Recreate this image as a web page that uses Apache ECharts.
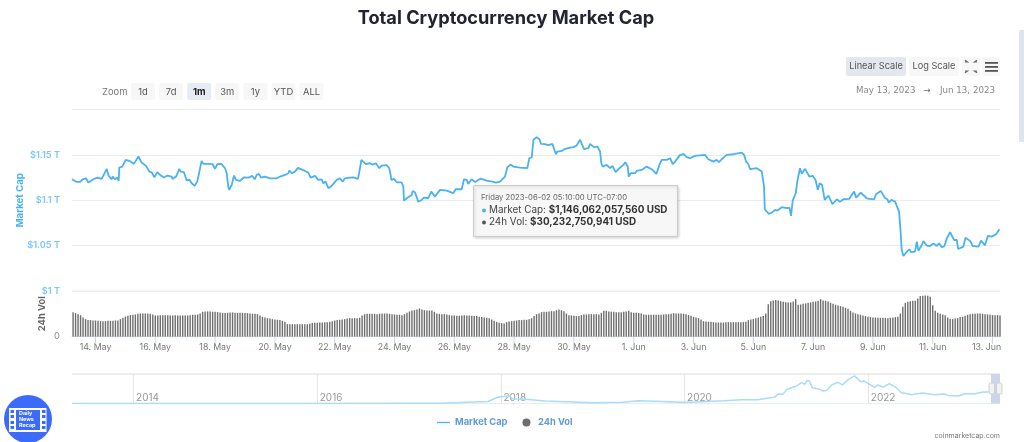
<!DOCTYPE html>
<html lang="en" style="height: 100%">
<head>
    <meta charset="utf-8"/>
    <meta name="viewport" content="width=device-width, initial-scale=1.0"/>
</head>
<body style="height: 100%; margin: 0; overflow: hidden; background: #fff">
<div id="container" style="height: 100%"></div>

<script type="text/javascript" src="https://cdn.jsdelivr.net/npm/echarts@6/dist/echarts.min.js"></script>

<script type="text/javascript">
    // hours since 13 May 2023 00:00, market cap in trillions
    var capHours = [
        5.1, 6.7, 8.9, 11.6, 13.7, 16.4, 18.2, 19.6, 22.3, 25.5, 29, 30.3, 33, 34.6, 37, 37.8, 39.6, 41.5, 42.6, 43.1,
        45.5, 48.2, 51.7, 54.9, 58.4, 61, 64.5, 67.2, 68.3, 69.3, 71.2, 73.6, 75.8, 79, 81.7, 85.1, 85.9, 88.6, 91.3, 92.4,
        95, 97.2, 99.3, 101.2, 103.6, 105.7, 109.2, 110.6, 114.6, 118, 119.9, 121.8, 125, 128, 129.3, 130.6, 131.4, 133.3, 135.2, 136.8,
        140, 143.2, 146.7, 148, 149.9, 151.8, 153.4, 155.2, 156.8, 160, 164, 169.4, 172.1, 176.1, 178.8, 179.6, 181.5, 184.1, 186.5,
        192.1, 194.8, 196.7, 200.2, 202.8, 205.5, 206.9, 208.7, 210.9, 213.5, 217.6, 220.2, 222.4, 224.2, 228.3, 230.9, 232.5, 234.7, 235.8, 237.4,
        239, 241.1, 244.3, 246.2, 249.1, 251.8, 253.7, 257.7, 259.8, 260.9, 261.4, 263.6, 265.7, 269.7, 271.1, 271.6, 273.8, 275.4, 277.8, 278.6,
        280.4, 281.8, 283.1, 285.8, 287.7, 291.1, 293.5, 296.5, 300.5, 305.9, 308, 311.2, 313.1, 317.9, 319.8, 321.9, 323.2, 325.9, 328.6, 333.2,
        337.9, 342.5, 345.5, 348.7, 352.7, 354.6, 357.2, 359.4, 362, 364.8, 370.6, 372.2, 374.1, 375.5, 378.1, 380.3, 381.6, 384.8, 387.5, 390.7,
        391.5, 393.6, 394.7, 398.2, 400.3, 404.9, 405.4, 407.6, 410.2, 412.9, 416.1, 419.6, 421, 424.2, 426.8, 429, 430, 431.1, 434.3, 437,
        438.9, 441.5, 444.5, 447.7, 449.3, 451.2, 452, 453.6, 457.1, 458.4, 462.4, 466.4, 470.4, 474.2, 476.6, 478.5, 482.5, 485.2, 487.3, 489.2,
        493.2, 496.4, 498.5, 501.2, 505.2, 513.2, 515.9, 519.9, 522.6, 524.5, 526.6, 530.6, 536, 542.7, 544.6, 546.2, 548, 549.4, 554.8, 558.8,
        560.1, 560.6, 561.2, 562.8, 564.4, 566.8, 569.5, 571.3, 574.8, 578.8, 581, 582.3, 583.6, 586, 587.4, 589.5, 590.9, 593.5, 597, 599.7,
        602.1, 603.7, 605.3, 607.2, 609.3, 612.3, 613.6, 615.5, 619, 621.6, 624.3, 628.9, 630.2, 632.9, 634.5, 638.2, 643.1, 645.2, 649, 650.5,
        654.3, 657.8, 659.6, 660.7, 662.8, 665.8, 669, 670.3, 671.1, 672.5, 675.2, 677.3, 678.6, 681.8, 683.2, 684.5, 687.2, 688.5, 691.2, 693.9,
        696.6, 699.2, 701.1, 703.3, 705.4, 707.3, 709.9, 713.2, 715.3, 716.4, 720.6, 722.3, 726, 728.1, 732.7, 734.8, 738, 740.2, 743.4, 746.9, 749.5
    ];
    var capValues = [
        1.1231, 1.1235, 1.1202, 1.1202, 1.1231, 1.1242, 1.1195, 1.1187, 1.1231, 1.125, 1.1235, 1.1231, 1.1345, 1.1268, 1.1231, 1.1261, 1.1231, 1.125, 1.1213, 1.136,
        1.1371, 1.1445, 1.143, 1.1401, 1.1482, 1.1415, 1.1379, 1.1316, 1.1316, 1.1305, 1.1253, 1.1309, 1.1279, 1.125, 1.1272, 1.1261, 1.1235, 1.1261, 1.1345, 1.1316,
        1.1309, 1.1217, 1.1228, 1.1187, 1.1158, 1.1206, 1.1434, 1.1401, 1.1401, 1.1397, 1.1345, 1.1397, 1.1401, 1.1353, 1.1298, 1.115, 1.1114, 1.1169, 1.1272, 1.1224,
        1.1213, 1.1253, 1.125, 1.1231, 1.1268, 1.1231, 1.1279, 1.129, 1.125, 1.1261, 1.1242, 1.1242, 1.1261, 1.1279, 1.1298, 1.1327, 1.1298, 1.1316, 1.1356,
        1.1323, 1.1305, 1.125, 1.1268, 1.1224, 1.1231, 1.1187, 1.1206, 1.1132, 1.1158, 1.1224, 1.1242, 1.1206, 1.1242, 1.125, 1.1253, 1.1261, 1.1235, 1.1316, 1.1445,
        1.1437, 1.1397, 1.1408, 1.1393, 1.1408, 1.1353, 1.1382, 1.1386, 1.1353, 1.1279, 1.1224, 1.1235, 1.1198, 1.1198, 1.115, 1.0996, 1.1022, 1.1007, 1.1058, 1.1103,
        1.1088, 1.1095, 1.0985, 1.1003, 1.1029, 1.1022, 1.1095, 1.104, 1.1114, 1.1106, 1.1095, 1.1077, 1.1121, 1.1121, 1.1231, 1.1224, 1.118, 1.1231, 1.1202, 1.1239,
        1.1217, 1.1206, 1.1195, 1.1206, 1.1261, 1.1364, 1.1393, 1.1371, 1.1364, 1.136, 1.1353, 1.1463, 1.1471, 1.1666, 1.1695, 1.1673, 1.1621, 1.1618, 1.1607, 1.1621,
        1.1603, 1.1507, 1.1537, 1.1544, 1.1563, 1.1581, 1.1599, 1.1585, 1.1603, 1.1666, 1.1563, 1.1574, 1.1621, 1.1585, 1.1592, 1.1537, 1.1408, 1.1371, 1.139, 1.1353,
        1.1379, 1.1309, 1.1353, 1.139, 1.1419, 1.1371, 1.1261, 1.1298, 1.1298, 1.1323, 1.1334, 1.1371, 1.1342, 1.129, 1.139, 1.1445, 1.1445, 1.1463, 1.1397, 1.1426,
        1.15, 1.1507, 1.1474, 1.1463, 1.1489, 1.15, 1.1452, 1.1426, 1.1445, 1.1419, 1.1452, 1.15, 1.1507, 1.1526, 1.15, 1.1426, 1.1397, 1.1342, 1.1353, 1.1316,
        1.1328, 1.1151, 1.0901, 1.0893, 1.0849, 1.0864, 1.0893, 1.0886, 1.0923, 1.0912, 1.0919, 1.0827, 1.0996, 1.1077, 1.1217, 1.1353, 1.1291, 1.1346, 1.1261, 1.1269,
        1.1217, 1.1114, 1.1188, 1.1169, 1.1004, 1.1052, 1.1033, 1.0956, 1.1011, 1.0982, 1.1011, 1.1015, 1.104, 1.1096, 1.1029, 1.1085, 1.1022, 1.1015, 1.1011, 1.1066,
        1.1103, 1.1022, 1.1011, 1.0974, 1.1004, 1.0985, 1.0875, 1.0636, 1.0452, 1.0385, 1.0433, 1.0459, 1.0429, 1.0433, 1.0544, 1.0444, 1.0507, 1.0551, 1.05, 1.0496,
        1.0525, 1.0496, 1.0525, 1.0481, 1.0496, 1.058, 1.0647, 1.0562, 1.0562, 1.0463, 1.0489, 1.0588, 1.0551, 1.0496, 1.0488, 1.0555, 1.0503, 1.0606, 1.0599, 1.0625, 1.068
    ];
    // 24h volume in billions, one bar every two hours from 13 May 06:00
    var volValues = [
        32.4, 31.1, 29.7, 28.4, 25.3, 23.1, 21.8, 21.8, 21.3, 21.3, 20.9, 20.4, 20.4, 20.4, 20.9, 20.9, 20.9, 21.3, 21.3, 23.1, 24.9, 26.6, 27.5, 28.4,
        28.9, 29.3, 30.2, 30.6, 30.6, 30.6, 30.6, 30.2, 29.3, 28, 28, 28.4, 28.4, 28.4, 28.4, 28, 28, 28.4, 28, 28, 28, 28, 28, 28.4,
        28.9, 28.9, 29.3, 30.6, 32.9, 33.3, 33.3, 33.3, 32.9, 32.9, 32.4, 32, 31.5, 31.1, 31.5, 32, 32, 31.5, 31.5, 31.5, 31.5, 31.1, 31.1, 30.6,
        30.2, 30.2, 29.7, 28, 26.2, 25.3, 24.4, 24, 23.1, 22.6, 22.2, 21.8, 20.9, 19.5, 16.4, 16.4, 16.4, 16.4, 16.4, 16.4, 16.4, 16.3, 16.4, 16.9,
        17.8, 18.2, 18.2, 18.6, 18.6, 19.1, 19.1, 19.5, 20.4, 21.3, 21.8, 22.2, 22.6, 23.1, 24, 24.4, 24.4, 24.4, 24.4, 24.9, 28, 29.7, 30.2, 30.2,
        30.2, 30.2, 29.7, 30.2, 30.6, 30.6, 30.6, 30.2, 29.7, 29.3, 28.9, 28.9, 28.4, 29.7, 31.5, 33.3, 34.6, 35, 36, 37.3, 36, 35, 34.6, 34.6,
        34.6, 32.9, 30.6, 30.2, 29.7, 29.7, 29.3, 28.4, 28, 28, 27.5, 27.5, 28, 28.4, 28, 28, 27.5, 27.1, 27.1, 26.2, 25.8, 25.3, 24.9, 24.4,
        22.6, 20.9, 19.5, 18.2, 17.8, 17.3, 19.1, 20, 20.4, 20.9, 21.3, 21.8, 21.8, 22.2, 22.2, 23.1, 24.4, 27.1, 29.7, 30.6, 32.4, 32.9, 32.9, 33.3,
        33.7, 33.7, 35, 36, 35, 33.7, 30.6, 28.4, 28, 27.5, 27.1, 27.1, 28.4, 29.3, 29.3, 29.7, 29.7, 29.7, 29.7, 29.3, 31.5, 34.2, 34.2, 33.3,
        32.9, 32.9, 32.4, 32.4, 32.4, 32.9, 33.3, 34.2, 32.4, 31.5, 31.5, 31.1, 30.6, 29.3, 28.9, 28.9, 28.9, 28.9, 28.9, 28.9, 28.9, 29.3, 29.7, 29.7,
        30.2, 31.1, 30.6, 30.6, 30.6, 30.2, 29.7, 28.4, 27.5, 26.2, 25.3, 24.4, 22.6, 20.4, 20, 19.5, 19.5, 19.1, 18.6, 18.6, 18.6, 18.6, 19.1, 19.1,
        19.1, 19.1, 19.1, 19.1, 19.1, 19.1, 19.5, 21.8, 22.6, 23.5, 24.4, 25.3, 26.2, 27.1, 30.6, 43, 47, 48, 48.4, 48, 47, 46.2, 45.7, 45.3,
        45.3, 46.6, 49.7, 42.2, 42.6, 43.5, 44, 44.8, 45.3, 46.2, 46.6, 47.5, 49.7, 48, 47.5, 46.6, 44.8, 43.5, 42.2, 41.3, 40.4, 39.5, 38.2, 36.9,
        34.2, 32, 30.6, 29.7, 28.9, 28, 27.1, 26.2, 25.8, 25.3, 25.3, 24.9, 24.9, 24.9, 24.9, 24.4, 24.9, 25.3, 25.8, 26.2, 30.6, 39.5, 44.8, 46.2,
        47, 47.5, 47.5, 50.6, 53.7, 54.2, 54.6, 54.2, 52.8, 41.7, 34.2, 31.5, 30.2, 29.3, 28.4, 25.3, 23.5, 23.1, 24, 24.4, 25.8, 26.2, 27.5, 28.9,
        29.7, 30.2, 30.2, 30.6, 30.6, 30.2, 29.7, 29.3, 28.9, 28.4, 28.4, 28.4, 28
    ];
    var tickHours = [24, 72, 120, 168, 216, 264, 312, 360, 408, 456, 504, 552, 600, 648, 696, 744];
    var tickLabels = ["14. May", "16. May", "18. May", "20. May", "22. May", "24. May", "26. May", "28. May",
        "30. May", "1. Jun", "3. Jun", "5. Jun", "7. Jun", "9. Jun", "11. Jun", "13. Jun"];
    // overview line: decimal year and market cap in trillions
    var navYears = [
        2013.33, 2014, 2015, 2016, 2017, 2017.34, 2017.63, 2017.86, 2017.95, 2017.99, 2018.1, 2018.12, 2018.3, 2018.48, 2018.85, 2019.02, 2019.32, 2019.5, 2019.75, 2019.96,
        2020.07, 2020.25, 2020.43, 2020.62, 2020.8, 2020.93, 2020.98, 2021.02, 2021.07, 2021.11, 2021.16, 2021.22, 2021.27, 2021.31, 2021.33, 2021.36, 2021.39, 2021.45, 2021.51, 2021.55,
        2021.6, 2021.67, 2021.72, 2021.78, 2021.85, 2021.92, 2021.95, 2022, 2022.07, 2022.1, 2022.16, 2022.23, 2022.3, 2022.36, 2022.43, 2022.47, 2022.59, 2022.72, 2022.83, 2022.87,
        2022.98, 2023.05, 2023.16, 2023.25, 2023.32, 2023.43
    ];
    var navValues = [
        0.002, 0.01, 0.005, 0.007, 0.018, 0.035, 0.14, 0.21, 0.6, 0.71, 0.78, 0.5, 0.42, 0.25, 0.14, 0.07, 0.14, 0.28, 0.21, 0.14,
        0.14, 0.21, 0.28, 0.39, 0.39, 0.6, 0.67, 0.99, 0.96, 1.45, 1.66, 1.84, 2.19, 2.02, 2.41, 2.37, 1.66, 1.56, 1.31, 1.38,
        1.95, 2.23, 1.95, 2.51, 2.9, 2.27, 2.37, 2.09, 1.7, 1.95, 1.73, 2.09, 1.7, 1.13, 1.03, 0.92, 1.1, 0.92, 0.99, 0.85,
        0.78, 1.03, 1.03, 1.2, 1.2, 1.1
    ];
    var navTicks = [2014, 2016, 2018, 2020, 2022];
    var zoomButtons = ["1d", "7d", "1m", "3m", "1y", "YTD", "ALL"];

    var FONT = "Inter, Roboto, sans-serif";

    function box(x, y, w, h, fill) {
        return {type: "rect", shape: {x: x, y: y, width: w, height: h, r: 2}, style: {fill: fill}, silent: true};
    }
    function label(x, y, text, size, color, weight, align, family) {
        return {
            type: "text", x: x, y: y, silent: true,
            style: {
                text: text, fill: color, font: (weight || 400) + " " + size + "px " + (family || FONT),
                align: align || "left", verticalAlign: "middle",
            },
        };
    }
    function bar(x, y, w, h, color) {
        return {type: "rect", shape: {x: x, y: y, width: w, height: h}, style: {fill: color}, silent: true};
    }

    var gfx = [];

    // range buttons
    gfx.push(label(102, 92, "Zoom", 9.4, "#777"));
    zoomButtons.forEach(function (t, i) {
        var x = i < 5 ? 131 + i * 28.1 : (i == 5 ? 271.5 : 299.5);
        var on = t == "1m";
        gfx.push(box(x, 83, 24, 17, on ? "#e6ebf5" : "#f7f7f7"));
        gfx.push(label(x + 12, 92, t, 9.4, on ? "#222" : "#555", on ? 700 : 400, "center"));
    });

    // scale buttons, icons, date range
    gfx.push(box(846, 57, 60, 19, "#e4e7ee"));
    gfx.push(label(876, 66.5, "Linear Scale", 9.2, "#555", 400, "center"));
    gfx.push(box(909, 57, 50, 19, "#f7f7f7"));
    gfx.push(label(934, 66.5, "Log Scale", 9.2, "#555", 400, "center"));
    gfx.push(box(962, 57, 18, 19, "#f7f7f7"));
    gfx.push(box(982, 57, 18, 19, "#f7f7f7"));
    [[965, 62, 5, -3], [977, 62, -5, -3], [965, 71, 5, 3], [977, 71, -5, 3]].forEach(function (c) {
        gfx.push({
            type: "polyline", silent: true,
            shape: {points: [[c[0], c[1]], [c[0] + c[2] * 0.5, c[1]], [c[0], c[1] + c[3] * 0.6]]},
            style: {stroke: "#666", lineWidth: 1.2, fill: null},
        });
    });
    [62, 66, 70].forEach(function (y) {
        gfx.push(bar(985, y, 13, 1.8, "#555"));
    });
    gfx.push(label(856, 91, "May 13, 2023", 8.7, "#888", 400, "left", "DejaVu Sans"));
    gfx.push(label(927, 91, "\u2192", 8.7, "#666", 400, "center", "DejaVu Sans"));
    gfx.push(label(995, 91, "Jun 13, 2023", 8.7, "#888", 400, "right", "DejaVu Sans"));

    // gridline under the price pane reads heavier in the picture
    gfx.push(bar(72, 290.2, 928, 1.8, "#eeeeee"));

    // fixed hover card
    gfx.push({
        type: "rect", silent: true, z: 50,
        shape: {x: 473.5, y: 185.5, width: 204, height: 51},
        style: {fill: "#f7f7f7", stroke: "#cccccc", lineWidth: 1, shadowBlur: 3, shadowColor: "rgba(0,0,0,0.18)", shadowOffsetX: 1, shadowOffsetY: 1},
    });
    var cardText = [
        label(481, 197.5, "Friday 2023-06-02 05:10:00 UTC-07:00", 7.7, "#666"),
        {
            type: "text", x: 489, y: 210, silent: true,
            style: {
                text: "{a|Market Cap: }{b|$1,146,062,057,560 USD}", verticalAlign: "middle",
                rich: {a: {fill: "#444", font: "400 9.9px " + FONT}, b: {fill: "#333", font: "700 9.9px " + FONT}},
            },
        },
        {
            type: "text", x: 489, y: 222, silent: true,
            style: {
                text: "{a|24h Vol: }{b|$30,232,750,941 USD}", verticalAlign: "middle",
                rich: {a: {fill: "#444", font: "400 9.9px " + FONT}, b: {fill: "#333", font: "700 9.9px " + FONT}},
            },
        },
        {type: "circle", silent: true, shape: {cx: 484, cy: 210.5, r: 2}, style: {fill: "#4ab2ef"}},
        {type: "circle", silent: true, shape: {cx: 484, cy: 222.5, r: 2}, style: {fill: "#555"}},
    ];
    cardText.forEach(function (e) {
        e.z = 51;
        gfx.push(e);
    });

    // overview frame and handles
    gfx.push(bar(72, 373.5, 928, 1, "#dcdcdc"));
    [989, 996.5].forEach(function (x) {
        gfx.push({
            type: "rect", silent: true, z: 20,
            shape: {x: x, y: 383, width: 5.5, height: 11, r: 1.5},
            style: {fill: "#f2f2f2", stroke: "#d0d0d0", lineWidth: 1},
        });
    });

    // logo
    gfx.push({type: "circle", silent: true, shape: {cx: 28, cy: 419, r: 24}, style: {fill: "#3a6bfa"}});
    gfx.push(bar(9, 408, 37.5, 24, "#ffffff"));
    gfx.push(bar(16, 410, 24, 20, "#3a6bfa"));
    [410, 415, 421, 426].forEach(function (y) {
        gfx.push(bar(10.5, y, 3.5, 3, "#3a6bfa"));
        gfx.push(bar(42, y, 3.5, 3, "#3a6bfa"));
    });
    gfx.push(label(19, 413.5, "Daily", 5.4, "#fff", 700));
    gfx.push(label(19, 419.5, "News", 5.4, "#fff", 700));
    gfx.push(label(19, 425.5, "Recap", 5.4, "#fff", 700));

    // page scrollbar and credit
    gfx.push({type: "rect", silent: true, shape: {x: 1019, y: 30, width: 6, height: 112, r: 2}, style: {fill: "#dfe5ef"}});
    gfx.push(label(1000, 436, "coinmarketcap.com", 7, "#777", 400, "right"));

    var dom = document.getElementById("container");
    var myChart = echarts.init(dom, null, {renderer: "canvas"});

    var xMin = 5.14;
    var xMax = 750;

    var option = {
        animation: false,
        title: {
            text: "Total Cryptocurrency Market Cap",
            left: 501, top: 5, textAlign: "center",
            textStyle: {color: "#222531", fontFamily: FONT, fontWeight: 700, fontSize: 18.2},
        },
        legend: {
            left: 432, top: 413, itemWidth: 13, itemHeight: 8, itemGap: 15,
            textStyle: {color: "#5f9bd9", fontFamily: FONT, fontWeight: 700, fontSize: 9.3},
            data: [
                {name: "Market Cap", icon: "path://M0 0L0 0M0 3.3H14V4.7H0ZM14 8L14 8", itemStyle: {color: "#4ab2ef"}},
                {name: "24h Vol", icon: "circle"},
            ],
        },
        grid: [
            {left: 72, right: 24, top: 109.5, height: 181.5},
            {left: 72, right: 24, top: 291, height: 45.5},
            {left: 72, right: 24, top: 374, height: 29.5},
            // thin strip under the volume pane, holds the date ticks
            {left: 72, right: 24, top: 337, height: 7},
        ],
        xAxis: [
            {type: "value", gridIndex: 0, min: xMin, max: xMax, show: false},
            {
                type: "value", gridIndex: 1, min: xMin, max: xMax,
                axisLine: {lineStyle: {color: "#ccd6eb"}},
                axisTick: {show: false},
                splitLine: {show: false},
                axisLabel: {
                    customValues: tickHours, color: "#777", fontFamily: FONT, fontSize: 8.8, margin: 6,
                    hideOverlap: false,
                    rich: {last: {color: "#777", fontFamily: FONT, fontSize: 8.8, padding: [0, 12, 0, 0]}},
                    formatter: function (v) {
                        var t = tickLabels[tickHours.indexOf(v)];
                        return v == 744 ? "{last|" + t + "}" : t;
                    },
                },
            },
            {
                type: "value", gridIndex: 2, min: 2013.33, max: 2023.434,
                axisLine: {lineStyle: {color: "#e6eef5"}},
                axisTick: {show: false, customValues: navTicks},
                splitLine: {show: true, lineStyle: {color: "#e6e6e6"}},
                axisLabel: {
                    customValues: navTicks, inside: true, color: "#999", fontFamily: FONT, fontSize: 10,
                    align: "left", padding: [0, 0, 0, 2.5], margin: 1,
                    formatter: function (v) {
                        return String(v);
                    },
                },
            },
            {type: "value", gridIndex: 3, min: xMin, max: xMax, show: false},
        ],
        yAxis: [
            {
                type: "value", gridIndex: 0, min: 1, max: 1.2, interval: 0.05,
                name: "Market Cap", nameLocation: "middle", nameGap: 47, nameMoveOverlap: false,
                nameTextStyle: {color: "#4ab2ef", fontFamily: FONT, fontWeight: 700, fontSize: 9.6},
                axisLine: {show: false}, axisTick: {show: false},
                splitLine: {lineStyle: {color: "#e9ecef"}},
                axisLabel: {
                    color: "#7cc8f5", fontFamily: FONT, fontWeight: 600, fontSize: 9.2, margin: 12,
                    formatter: function (v) {
                        return v > 1.19 ? "" : "$" + (+v.toFixed(2)) + " T";
                    },
                },
            },
            {
                type: "value", gridIndex: 1, min: 0, max: 60.5,
                name: "24h Vol", nameLocation: "middle", nameGap: 25.5, nameMoveOverlap: false,
                nameTextStyle: {color: "#666", fontFamily: FONT, fontWeight: 700, fontSize: 9.4},
                axisLine: {show: false}, axisTick: {show: false}, splitLine: {show: false},
                axisLabel: {customValues: [0], color: "#888", fontFamily: FONT, fontSize: 9.4, margin: 12},
            },
            {type: "value", gridIndex: 2, min: 0, max: 3.1, show: false},
            {type: "value", gridIndex: 3, min: 0, max: 1, inverse: true, show: false},
        ],
        series: [
            {
                name: "Market Cap", type: "line", xAxisIndex: 0, yAxisIndex: 0,
                data: capHours.map(function (h, i) {
                    return [h, capValues[i]];
                }),
                symbol: "none", lineStyle: {color: "#4ab2ef", width: 1.8}, itemStyle: {color: "#4ab2ef"},
            },
            {
                name: "24h Vol", type: "bar", xAxisIndex: 1, yAxisIndex: 1,
                data: volValues.map(function (v, i) {
                    return [6 + 2 * i, v];
                }),
                barWidth: 1.4, itemStyle: {color: "#6e6e6e"},
            },
            {
                type: "line", xAxisIndex: 2, yAxisIndex: 2,
                data: navYears.map(function (y, i) {
                    return [y, navValues[i]];
                }),
                symbol: "none", silent: true, lineStyle: {color: "#a8dcfa", width: 1.5},
                markArea: {
                    silent: true, itemStyle: {color: "#ccd6eb"},
                    data: [[{xAxis: 2023.336, yAxis: 0}, {xAxis: 2023.434, yAxis: 3.1}]],
                },
            },
            {
                // date ticks
                type: "bar", xAxisIndex: 3, yAxisIndex: 3, silent: true,
                data: tickHours.map(function (h) {
                    return [h, 1];
                }),
                barWidth: 1, itemStyle: {color: "#ccd6eb"},
            },
        ],
        graphic: {elements: gfx},
    };

    if (option && typeof option === "object") {
        myChart.setOption(option);
    }

    window.addEventListener("resize", myChart.resize);
</script>
</body>
</html>
